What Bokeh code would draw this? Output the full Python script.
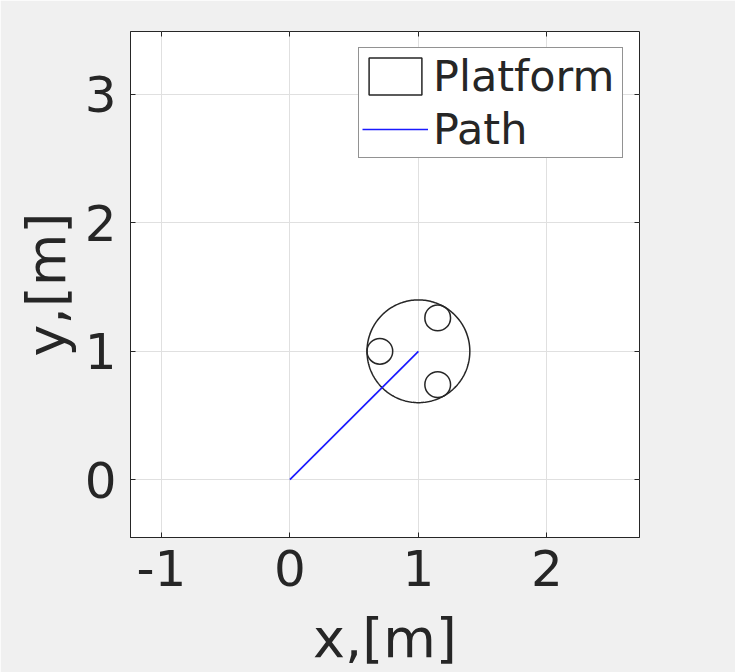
import numpy as np
from bokeh.plotting import figure
from bokeh.models import (Range1d, FixedTicker, LinearAxis, Legend, LegendItem,
                          CustomLabelingPolicy)
from bokeh.embed import file_html
from bokeh.resources import INLINE

# ---- data ----
x_ticks = [-1, 0, 1, 2]
y_ticks = [0, 1, 2, 3]
x_tick_labels = {-1: "-1", 0: "0", 1: "1", 2: "2"}
x_limits = (-1.24, 2.72)
y_limits = (-0.45, 3.49)

path_x = [0.0, 1.0]
path_y = [0.0, 1.0]

platform_x = [1.0]
platform_y = [1.0]
platform_r = [0.4]

wheel_x = [0.7, 1.15, 1.15]
wheel_y = [1.0, 1.26, 0.74]
wheel_r = [0.1, 0.1, 0.1]

# ---- style ----
FONT = "DejaVu Sans"
DARK = "#262626"
GRID = "#e0e0e0"
BG = "#f0f0f0"

W, H = 735, 672
p = figure(width=W, height=H, output_backend="svg", toolbar_location=None,
           x_range=Range1d(*x_limits), y_range=Range1d(*y_limits),
           min_border_left=130, min_border_right=96,
           min_border_top=31, min_border_bottom=135,
           background_fill_color="white", border_fill_color=BG)
p.outline_line_color = DARK
p.outline_line_width = 1

# main axes
for ax in (p.xaxis[0], p.yaxis[0]):
    ax.major_label_text_font = FONT
    ax.major_label_text_font_size = "50px"
    ax.major_label_text_color = DARK
    ax.axis_label_text_font = FONT
    ax.axis_label_text_font_size = "54px"
    ax.axis_label_text_font_style = "normal"
    ax.axis_label_text_color = DARK
    ax.axis_line_color = DARK
    ax.major_tick_line_color = DARK
    ax.major_tick_in = 5
    ax.major_tick_out = 0
    ax.minor_tick_line_color = None

p.xaxis[0].ticker = FixedTicker(ticks=x_ticks)
p.xaxis[0].major_label_overrides = x_tick_labels
p.yaxis[0].ticker = FixedTicker(ticks=y_ticks)
p.xaxis[0].axis_label = "x,[m]"
p.yaxis[0].axis_label = "y,[m]"
p.xaxis[0].major_label_standoff = 12
p.xaxis[0].axis_label_standoff = 18
p.yaxis[0].major_label_standoff = 14
p.yaxis[0].axis_label_standoff = 4

# box ticks on top / right (no labels)
no_labels = CustomLabelingPolicy(code="if (false) { yield 0 }")
top_ax = LinearAxis(ticker=FixedTicker(ticks=x_ticks),
                    major_label_policy=no_labels,
                    major_tick_in=5, major_tick_out=0, major_tick_line_color=DARK,
                    minor_tick_line_color=None, axis_line_color=None,
                    major_label_standoff=0)
right_ax = LinearAxis(ticker=FixedTicker(ticks=y_ticks),
                      major_label_policy=no_labels,
                      major_tick_in=5, major_tick_out=0, major_tick_line_color=DARK,
                      minor_tick_line_color=None, axis_line_color=None,
                      major_label_standoff=0)
p.add_layout(top_ax, "above")
p.add_layout(right_ax, "right")

p.xgrid.ticker = FixedTicker(ticks=x_ticks)
p.ygrid.ticker = FixedTicker(ticks=y_ticks)
p.grid.grid_line_color = GRID
p.grid.grid_line_width = 1

# platform body drawn as a patch outline (from its centre and radius)
theta = np.linspace(0, 2 * np.pi, 241)
plat_outline_x = platform_x[0] + platform_r[0] * np.cos(theta)
plat_outline_y = platform_y[0] + platform_r[0] * np.sin(theta)
platform_r_glyph = p.patch(x=plat_outline_x, y=plat_outline_y, fill_color="white",
                           fill_alpha=0, line_color=DARK, line_width=1.5)
# wheels
p.circle(x=wheel_x, y=wheel_y, radius=wheel_r, fill_color=None,
         line_color=DARK, line_width=1.5)

# path
path_r = p.line(x=path_x, y=path_y, line_color="#1a1aff", line_width=1.7)

legend = Legend(items=[LegendItem(label="Platform", renderers=[platform_r_glyph]),
                       LegendItem(label="Path", renderers=[path_r])],
                location="top_right", margin=16, padding=3, spacing=3,
                glyph_width=66, glyph_height=46, label_standoff=5,
                label_width=186,
                label_text_font=FONT, label_text_font_size="43px",
                label_text_color=DARK,
                border_line_color=DARK, border_line_width=1,
                background_fill_color="white", background_fill_alpha=1)
p.add_layout(legend)

open("out.html", "w").write(file_html(p, INLINE))
